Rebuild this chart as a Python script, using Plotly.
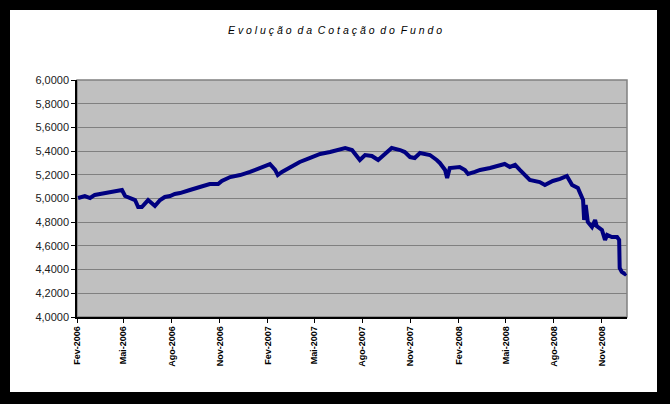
import plotly.graph_objects as go

dates = [
    "2006-02-03", "2006-02-16", "2006-02-26", "2006-03-07", "2006-03-17", "2006-04-05",
    "2006-04-20", "2006-04-28", "2006-05-04", "2006-05-13", "2006-05-23", "2006-05-29",
    "2006-06-05", "2006-06-17", "2006-06-24", "2006-06-30", "2006-07-10", "2006-07-19",
    "2006-07-29", "2006-08-07", "2006-08-17", "2006-08-27", "2006-09-05", "2006-09-24",
    "2006-10-04", "2006-10-13", "2006-10-29", "2006-11-05", "2006-11-21", "2006-12-10",
    "2006-12-29", "2007-01-17", "2007-01-27", "2007-02-05", "2007-02-15", "2007-02-20",
    "2007-02-28", "2007-03-15", "2007-04-03", "2007-04-23", "2007-05-12", "2007-05-31",
    "2007-06-19", "2007-06-29", "2007-07-12", "2007-07-27", "2007-08-06", "2007-08-19",
    "2007-08-31", "2007-09-13", "2007-09-26", "2007-10-12", "2007-10-21", "2007-10-31",
    "2007-11-09", "2007-11-19", "2007-12-08", "2007-12-21", "2007-12-27", "2008-01-06",
    "2008-01-10", "2008-01-15", "2008-01-25", "2008-02-03", "2008-02-13", "2008-02-19",
    "2008-03-03", "2008-03-13", "2008-04-01", "2008-04-20", "2008-04-29", "2008-05-09",
    "2008-05-19", "2008-05-28", "2008-06-07", "2008-06-16", "2008-07-05", "2008-07-15",
    "2008-07-30", "2008-08-13", "2008-08-26", "2008-09-05", "2008-09-16", "2008-09-20",
    "2008-09-26", "2008-09-28", "2008-10-01", "2008-10-05", "2008-10-13", "2008-10-19",
    "2008-10-22", "2008-11-01", "2008-11-07", "2008-11-11", "2008-11-20", "2008-11-30",
    "2008-12-04", "2008-12-05", "2008-12-09", "2008-12-15", "2008-12-17",
]
cotacao = [
    5.004, 5.021, 5.004, 5.030, 5.038, 5.055,
    5.063, 5.072, 5.021, 5.004, 4.987, 4.928,
    4.928, 4.987, 4.962, 4.937, 4.987, 5.013,
    5.021, 5.038, 5.046, 5.063, 5.072, 5.097,
    5.114, 5.122, 5.122, 5.148, 5.181, 5.198,
    5.224, 5.257, 5.274, 5.291, 5.241, 5.198,
    5.224, 5.257, 5.308, 5.342, 5.376, 5.392,
    5.409, 5.426, 5.409, 5.325, 5.367, 5.359,
    5.325, 5.376, 5.426, 5.409, 5.392, 5.350,
    5.342, 5.384, 5.367, 5.325, 5.300, 5.241,
    5.173, 5.257, 5.266, 5.266, 5.241, 5.207,
    5.224, 5.241, 5.257, 5.283, 5.291, 5.266,
    5.283, 5.241, 5.190, 5.156, 5.139, 5.114,
    5.148, 5.165, 5.190, 5.114, 5.089, 5.055,
    4.987, 4.819, 4.945, 4.802, 4.760, 4.819,
    4.768, 4.734, 4.650, 4.692, 4.675, 4.675,
    4.650, 4.414, 4.380, 4.363, 4.371,
]

x_tick_dates = ["2006-02-01", "2006-05-01", "2006-08-01", "2006-11-01", "2007-02-01", "2007-05-01",
                "2007-08-01", "2007-11-01", "2008-02-01", "2008-05-01", "2008-08-01", "2008-11-01"]
x_tick_labels = ["Fev-2006", "Mai-2006", "Ago-2006", "Nov-2006", "Fev-2007", "Mai-2007",
                 "Ago-2007", "Nov-2007", "Fev-2008", "Mai-2008", "Ago-2008", "Nov-2008"]
y_tick_vals = [4.0, 4.2, 4.4, 4.6, 4.8, 5.0, 5.2, 5.4, 5.6, 5.8, 6.0]
y_tick_labels = ["4,0000", "4,2000", "4,4000", "4,6000", "4,8000", "5,0000",
                 "5,2000", "5,4000", "5,6000", "5,8000", "6,0000"]

W, H = 670, 404
L, T, R, B = 77, 80, 627, 317
pw, ph = R - L, B - T

def px(x):
    return (x - L) / pw

def py(y):
    return (B - y) / ph

fig = go.Figure()
fig.add_trace(go.Scatter(x=dates, y=cotacao, mode="lines",
                         line=dict(color="#000080", width=4), hoverinfo="skip"))

fig.update_layout(
    width=W, height=H,
    margin=dict(l=L, r=W - R, t=T, b=H - B),
    paper_bgcolor="black",
    plot_bgcolor="rgba(0,0,0,0)",
    showlegend=False,
    title=dict(text="<i>E v o l u ç ã o  d a  C o t a ç ã o  d o  F u n d o</i>",
               x=0.5, xanchor="center", y=1 - 30 / H, yanchor="middle",
               font=dict(family="Liberation Sans, Arial", size=10.5, color="black")),
    shapes=[
        dict(type="rect", xref="paper", yref="paper", layer="below",
             x0=px(10), x1=px(657), y0=py(392), y1=py(10),
             fillcolor="white", line=dict(width=0)),
        dict(type="rect", xref="paper", yref="paper", layer="below",
             x0=0, x1=1, y0=0, y1=1,
             fillcolor="#C0C0C0", line=dict(color="#808080", width=1.5)),
    ],
)
fig.update_xaxes(
    type="date", range=["2006-02-01", "2008-12-19"],
    tickvals=x_tick_dates, ticktext=x_tick_labels, tickangle=-90,
    tickfont=dict(family="Liberation Sans, Arial", size=9, color="black", weight="bold"),
    showgrid=False, zeroline=False,
    showline=True, linecolor="black", linewidth=1.5,
    ticks="outside", ticklen=4, tickcolor="black", tickwidth=1,
)
fig.update_yaxes(
    range=[4.0, 6.0], tickvals=y_tick_vals, ticktext=y_tick_labels,
    tickfont=dict(family="Liberation Sans, Arial", size=11, color="#202020"),
    showgrid=True, gridcolor="#808080", gridwidth=1, zeroline=False,
    showline=True, linecolor="black", linewidth=1.5,
    ticks="outside", ticklen=4, tickcolor="black", tickwidth=1,
)

fig.write_html("out.html")
